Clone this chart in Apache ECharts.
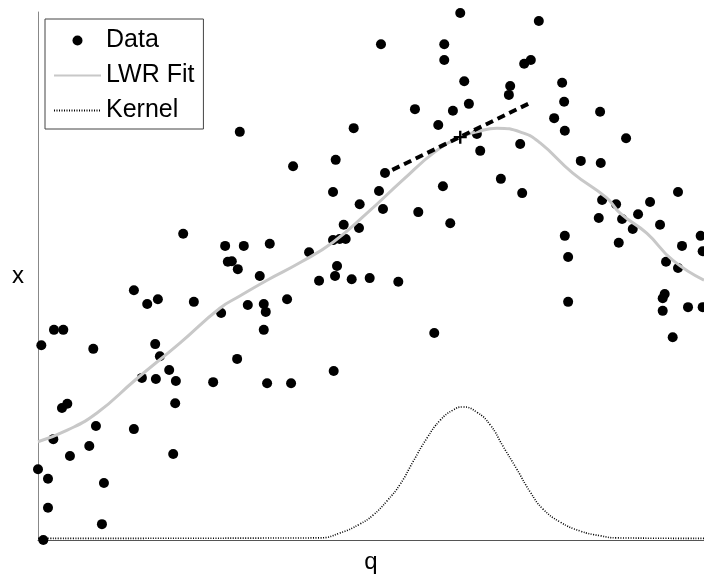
<!DOCTYPE html>
<html>
<head>
<meta charset="utf-8">
<script src="https://cdn.jsdelivr.net/npm/echarts@6/dist/echarts.min.js"></script>
<style>
  html, body { margin: 0; padding: 0; background: #fff; }
  #chart { width: 704px; height: 581px; }
</style>
</head>
<body>
<div id="chart"></div>
<script>
// Observed data (q, x)
var dataQ = [0.08,0.00,0.15,0.15,0.96,0.99,0.48,0.77,0.23,0.87,0.36,0.44,1.44,2.03,2.06,1.56,1.77,2.07,2.63,3.44,
             3.80,1.97,1.83,1.76,2.99,0.05,0.24,0.38,0.83,1.44,1.64,1.80,2.34,2.75,3.15,3.39,3.42,3.74,3.39,2.18,
             2.81,3.09,3.48,2.85,2.91,3.00,3.33,4.07,4.43,4.53,4.62,4.49,4.22,4.46,4.71,4.98,5.41,4.44,5.95,4.59,
             4.82,4.83,5.18,5.71,6.19,4.43,5.12,5.21,6.08,3.83,4.47,4.74,3.03,5.15,6.10,6.10,6.34,5.66,6.23,6.01,
             6.40,6.47,6.64,6.59,7.24,6.95,7.27,7.07,7.09,7.30,7.40,7.52,7.87,7.90,7.75,7.91,8.44,8.83,8.15,8.45,
             8.47,8.68,9.19,9.61,9.01,8.42,8.77,9.34,8.93,7.91,9.95,8.72,9.67,9.98,7.96,9.43,9.61,9.41,9.38,9.38,
             9.76,9.98,7.96,9.53];
var dataX = [0.00,1.34,1.16,0.61,0.30,1.08,1.59,1.78,1.91,2.16,2.50,2.58,2.10,1.63,2.59,3.07,3.05,3.01,2.99,2.97,
             2.97,3.22,3.48,3.71,3.43,3.69,3.98,3.98,3.62,4.73,4.47,4.56,4.51,4.30,4.45,4.47,4.32,4.56,3.98,5.80,
             5.57,5.57,5.61,5.27,5.28,5.13,5.00,5.45,5.68,5.70,5.70,5.19,4.91,5.00,4.94,4.96,4.89,3.20,3.92,5.97,
             5.91,6.36,6.27,6.21,6.00,6.59,6.61,6.95,6.70,7.08,7.20,7.80,7.73,9.39,9.39,9.09,9.98,8.16,8.13,7.86,
             8.69,8.26,7.37,7.69,7.50,6.84,6.57,8.43,8.60,9.02,9.09,9.83,8.66,8.30,7.99,7.75,8.11,7.61,7.18,7.14,
             6.44,6.36,6.40,6.59,6.17,6.10,6.08,5.97,5.89,5.76,5.76,5.63,5.57,5.47,5.36,5.27,5.15,4.66,4.58,4.34,
             4.41,4.41,4.51,3.84];

// LWR fit curve
var fitQ = [0.00,0.44,0.89,1.46,2.13,2.73,3.03,3.44,3.93,4.43,4.94,5.48,5.96,6.34,6.59,6.89,7.28,7.54,8.03,8.54,8.74,9.14,9.53,10.00];
var fitX = [1.86,2.08,2.41,3.03,3.73,4.39,4.62,4.92,5.25,5.64,6.19,6.82,7.35,7.63,7.73,7.80,7.71,7.52,6.95,6.48,6.19,5.81,5.30,4.92];

// Kernel weights curve
var kernelQ = [0.00,4.23,4.53,4.83,5.03,5.24,5.44,5.63,5.84,6.04,6.23,6.38,6.59,6.79,6.98,7.19,7.39,7.58,7.84,8.14,8.44,8.69,10.00];
var kernelX = [0.03,0.04,0.13,0.30,0.47,0.74,1.06,1.48,1.93,2.27,2.46,2.52,2.42,2.18,1.78,1.34,0.91,0.59,0.34,0.17,0.08,0.04,0.03];

// Local tangent line and query point
var tangentQ = [5.32, 7.36];
var tangentX = [7.01, 8.26];
var queryQ = [6.34];
var queryX = [7.63];

var legendNames = ['Data', 'LWR Fit', 'Kernel'];

function zip(a, b) { return a.map(function (v, i) { return [v, b[i]]; }); }

var chart = echarts.init(document.getElementById('chart'), null, { renderer: 'canvas' });
var font = 'Liberation Sans, Arial, Helvetica, sans-serif';
var noDot = { color: 'rgba(0,0,0,0)', borderWidth: 0, borderColor: 'rgba(0,0,0,0)', opacity: 0 };

chart.setOption({
  animation: false,
  backgroundColor: '#ffffff',
  grid: { left: 38, right: 0, top: 12, bottom: 41, containLabel: false },
  xAxis: {
    type: 'value', min: 0, max: 10,
    name: 'q', nameLocation: 'middle', nameGap: 10,
    nameTextStyle: { fontSize: 24, color: '#000', fontFamily: font },
    axisLine: { show: true, onZero: false, lineStyle: { color: '#555555', width: 1 } },
    axisTick: { show: false }, axisLabel: { show: false }, splitLine: { show: false }
  },
  yAxis: {
    type: 'value', min: 0, max: 10,
    name: 'x', nameLocation: 'middle', nameGap: 14, nameRotate: 0,
    nameTextStyle: { fontSize: 24, color: '#000', fontFamily: font },
    axisLine: { show: true, onZero: false, lineStyle: { color: '#888888', width: 1 } },
    axisTick: { show: false }, axisLabel: { show: false }, splitLine: { show: false }
  },
  legend: {
    data: [
      { name: legendNames[0] },
      { name: legendNames[1], itemStyle: noDot },
      { name: legendNames[2], itemStyle: noDot }
    ],
    orient: 'vertical',
    left: 45, top: 19,
    padding: [9, 9, 6, 8],
    itemWidth: 47, itemHeight: 10, itemGap: 10,
    borderColor: '#444444', borderWidth: 1, backgroundColor: '#ffffff',
    textStyle: { fontSize: 25, color: '#000', fontFamily: font, lineHeight: 25 },
    selectedMode: false
  },
  series: [
    {
      name: legendNames[0], type: 'scatter',
      data: zip(dataQ, dataX),
      symbol: 'circle', symbolSize: 10,
      itemStyle: { color: '#000000', opacity: 1 },
      clip: false, z: 2
    },
    {
      name: legendNames[1], type: 'line',
      data: zip(fitQ, fitX),
      smooth: true, symbol: 'none',
      lineStyle: { color: '#c8c8c8', width: 3 },
      itemStyle: { color: '#c8c8c8' },
      z: 3
    },
    {
      name: legendNames[2], type: 'line',
      data: zip(kernelQ, kernelX),
      smooth: true, symbol: 'none',
      lineStyle: { color: '#000000', width: 1.6, type: [1, 1.5] },
      itemStyle: { color: '#000000' },
      z: 3
    },
    {
      name: 'tangent', type: 'line',
      data: zip(tangentQ, tangentX),
      symbol: 'none',
      lineStyle: { color: '#000000', width: 4, type: [8, 5] },
      z: 4
    },
    {
      name: 'query', type: 'scatter',
      data: zip(queryQ, queryX),
      symbol: 'path://M-1.1,-6H1.1V6H-1.1Z M-6,-1.1H6V1.1H-6Z',
      symbolSize: 13,
      itemStyle: { color: '#000000', opacity: 1 },
      z: 5
    }
  ]
});
</script>
</body>
</html>
